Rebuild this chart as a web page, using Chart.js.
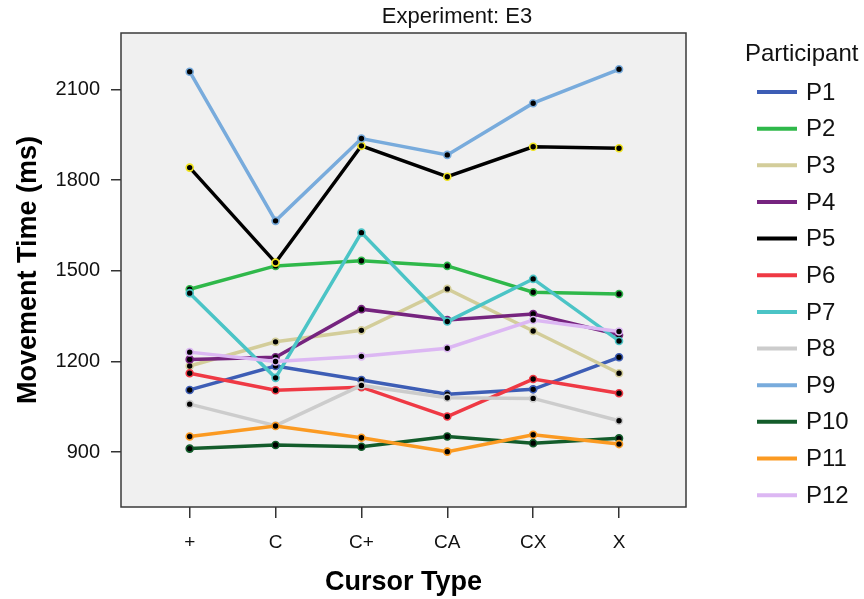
<!DOCTYPE html>
<html>
<head>
<meta charset="utf-8">
<script src="https://cdn.jsdelivr.net/npm/chart.js@4"></script>
<style>
  html, body { margin: 0; padding: 0; background: #fff; }
  #wrap { width: 864px; height: 599px; }
</style>
</head>
<body>
<div id="wrap"><canvas id="myChart" width="864" height="599"></canvas></div>
<script>
// cursor types on the x axis
const cursorTypes = ['+', 'C', 'C+', 'CA', 'CX', 'X'];
const yTicks = [900, 1200, 1500, 1800, 2100];

// movement time (ms) per participant
const p1  = [1106, 1185, 1139, 1092, 1108, 1214];
const p2  = [1439, 1516, 1533, 1516, 1429, 1423];
const p3  = [1185, 1265, 1303, 1440, 1301, 1161];
const p4  = [1207, 1214, 1373, 1337, 1357, 1288];
const p5  = [1841, 1527, 1913, 1811, 1910, 1905];
const p6  = [1161, 1105, 1115, 1018, 1142, 1095];
const p7  = [1426, 1146, 1626, 1332, 1473, 1268];
const p8  = [1059,  988, 1121, 1080, 1078, 1004];
const p9  = [2158, 1665, 1937, 1883, 2054, 2166];
const p10 = [ 912,  924,  918,  952,  930,  946];
const p11 = [ 952,  987,  948,  902,  958,  927];
const p12 = [1231, 1200, 1217, 1244, 1337, 1299];

const participants = ['P1','P2','P3','P4','P5','P6','P7','P8','P9','P10','P11','P12'];
const series = [p1, p2, p3, p4, p5, p6, p7, p8, p9, p10, p11, p12];
const colors = ['#3d5db5', '#2fb84a', '#d3cd9a', '#76247f', '#000000', '#ef3944',
                '#4bc4c6', '#cccccc', '#78abdc', '#135c2b', '#fb9a22', '#dcb7f3'];

const FONT = '"Liberation Sans", Arial, sans-serif';

// grey plot background + frame + title
const plotFrame = {
  id: 'plotFrame',
  beforeDatasetsDraw(chart) {
    const { ctx, chartArea: a } = chart;
    ctx.save();
    ctx.fillStyle = '#f0f0f0';
    ctx.fillRect(a.left, a.top, a.right - a.left, a.bottom - a.top);
    ctx.restore();
  },
  afterDraw(chart) {
    const { ctx, chartArea: a } = chart;
    ctx.save();
    ctx.strokeStyle = '#3a3a3a';
    ctx.lineWidth = 1.5;
    ctx.strokeRect(a.left, a.top, a.right - a.left, a.bottom - a.top);
    // SPSS puts the panel title a bit right of the plot centre
    ctx.fillStyle = '#111';
    ctx.font = '22px ' + FONT;
    ctx.textAlign = 'center';
    ctx.textBaseline = 'middle';
    ctx.fillText('Experiment: E3', 457, 17);
    ctx.restore();
  }
};

// legend on the right, like the SPSS one
const sideLegend = {
  id: 'sideLegend',
  afterDraw(chart) {
    const ctx = chart.ctx;
    ctx.save();
    ctx.fillStyle = '#111';
    ctx.font = '24px ' + FONT;
    ctx.textBaseline = 'middle';
    ctx.fillText('Participant', 745, 54);
    chart.data.datasets.forEach((ds, i) => {
      const y = 92 + i * 36.65;
      ctx.strokeStyle = ds.borderColor;
      ctx.lineWidth = 4;
      ctx.beginPath();
      ctx.moveTo(757, y);
      ctx.lineTo(797, y);
      ctx.stroke();
      ctx.fillText(ds.label, 806, y + 1);
    });
    ctx.restore();
  }
};

const datasets = series.map((vals, i) => ({
  label: participants[i],
  data: vals.map((v, j) => ({ x: j, y: v })),
  borderColor: colors[i],
  borderWidth: 3.5,
  pointRadius: 3.5,
  pointBorderWidth: 1.6,
  pointBackgroundColor: '#000',
  pointBorderColor: i === 4 ? '#f1e41e' : colors[i],
  order: series.length - i,
  tension: 0
}));

new Chart(document.getElementById('myChart').getContext('2d'), {
  type: 'line',
  data: { datasets },
  options: {
    responsive: false,
    animation: false,
    layout: { padding: { right: 178, left: 0, top: 33, bottom: 0 } },
    plugins: {
      legend: { display: false },
      tooltip: { enabled: false },
      title: { display: false }
    },
    scales: {
      x: {
        type: 'linear',
        min: -0.8,
        max: 5.78,
        afterBuildTicks: s => { s.ticks = cursorTypes.map((c, i) => ({ value: i })); },
        afterFit: s => { s.height = 92; },
        grid: { drawOnChartArea: false, drawTicks: true, tickLength: 11, color: '#333', lineWidth: 1.5 },
        border: { display: false },
        ticks: {
          color: '#111',
          padding: 13,
          maxRotation: 0,
          font: { family: FONT, size: 19 },
          callback: v => cursorTypes[v]
        },
        title: {
          display: true,
          text: 'Cursor Type',
          color: '#000',
          font: { family: FONT, size: 27, weight: 'bold' },
          padding: { top: 0, bottom: 0 }
        }
      },
      y: {
        min: 719,
        max: 2286,
        afterBuildTicks: s => { s.ticks = yTicks.map(v => ({ value: v })); },
        afterFit: s => { s.width = 121; },
        grid: { drawOnChartArea: false, drawTicks: true, tickLength: 10, color: '#333', lineWidth: 1.5 },
        border: { display: false },
        ticks: {
          color: '#111',
          padding: 11,
          font: { family: FONT, size: 20 },
          callback: v => String(v)
        },
        title: {
          display: true,
          text: 'Movement Time (ms)',
          color: '#000',
          font: { family: FONT, size: 27, weight: 'bold' },
          padding: { top: 12, bottom: 0 }
        }
      }
    }
  },
  plugins: [plotFrame, sideLegend]
});
</script>
</body>
</html>
